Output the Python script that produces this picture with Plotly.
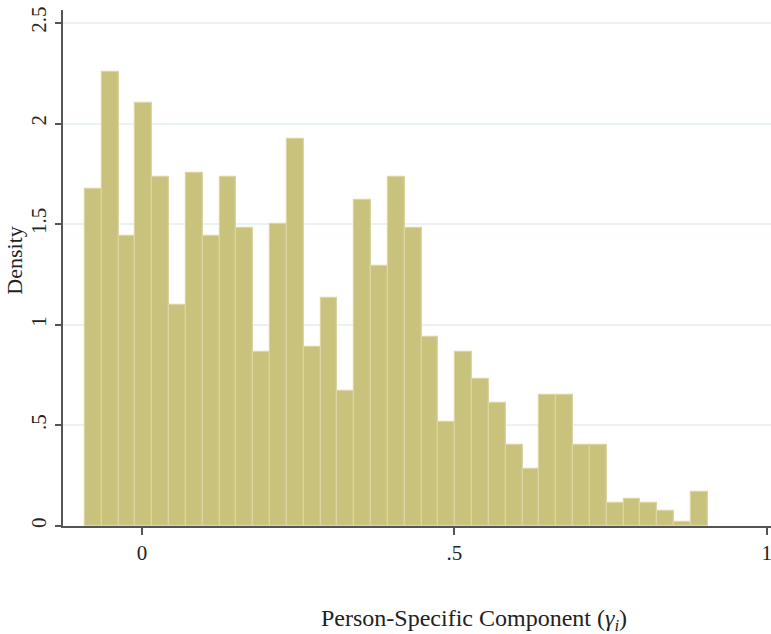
import plotly.graph_objects as go

# Histogram bins (Stata-style): left edge and width, densities per bin
bin_start = -0.0912
bin_width = 0.02694
densities = [1.676, 2.257, 1.443, 2.102, 1.736, 1.096, 1.756, 1.443, 1.736, 1.482,
             0.867, 1.500, 1.925, 0.887, 1.134, 0.671, 1.618, 1.290, 1.736, 1.482,
             0.941, 0.517, 0.866, 0.732, 0.613, 0.404, 0.285, 0.653, 0.653, 0.404,
             0.404, 0.113, 0.133, 0.113, 0.073, 0.018, 0.171]
x_tickvals = [0, 0.5, 1]
x_ticktext = ["0", ".5", "1"]
y_tickvals = [0, 0.5, 1, 1.5, 2, 2.5]
y_ticktext = ["0", ".5", "1", "1.5", "2", "2.5"]

centers = [bin_start + bin_width * (i + 0.5) for i in range(len(densities))]

font = "Liberation Serif, Times New Roman, serif"

fig = go.Figure()
fig.add_trace(go.Bar(
    x=centers, y=densities, width=bin_width,
    marker=dict(color="#C9C27C", line=dict(color="#DAD5A2", width=1.2)),
    showlegend=False,
))

fig.update_layout(
    width=771, height=634,
    margin=dict(l=63, r=0, t=10, b=108, autoexpand=False),
    paper_bgcolor="white", plot_bgcolor="white",
    font=dict(family=font, size=18, color="#222"),
    bargap=0,
    xaxis=dict(
        range=[-0.1264, 1.0067], tickvals=x_tickvals, ticktext=x_ticktext,
        showgrid=False, zeroline=False, showline=True, linecolor="#555", linewidth=1.5,
        ticks="outside", ticklen=7, tickcolor="#555", tickwidth=1.5,
        tickfont=dict(family=font, size=21, color="#222"),
        ticklabelstandoff=0, automargin=False, ticklabeloverflow="allow",
    ),
    yaxis=dict(
        range=[0, 2.564], tickvals=y_tickvals, ticktext=y_ticktext,
        showgrid=True, gridcolor="#EAF2F3", gridwidth=1.5, zeroline=False,
        showline=True, linecolor="#555", linewidth=1.5,
        ticks="outside", ticklen=6, tickcolor="#555", tickwidth=1.5,
        tickangle=-90, tickfont=dict(family=font, size=21, color="#222"),
        ticklabelstandoff=1, automargin=False,
    ),
    annotations=[
        dict(
            text="Person-Specific Component (<i>γ<sub>i</sub></i>)",
            xref="paper", yref="paper", x=0.5805, y=-0.183,
            xanchor="center", yanchor="middle", showarrow=False,
            font=dict(family=font, size=24, color="#222"),
        ),
        dict(
            text="Density", textangle=-90,
            xref="paper", yref="paper", x=-0.068, y=0.514,
            xanchor="center", yanchor="middle", showarrow=False,
            font=dict(family=font, size=22, color="#222"),
        ),
    ],
)

fig.write_html(
    "out.html",
    config={"displayModeBar": False},
    post_script="document.body.style.margin='0';document.body.style.overflow='hidden';",
)
